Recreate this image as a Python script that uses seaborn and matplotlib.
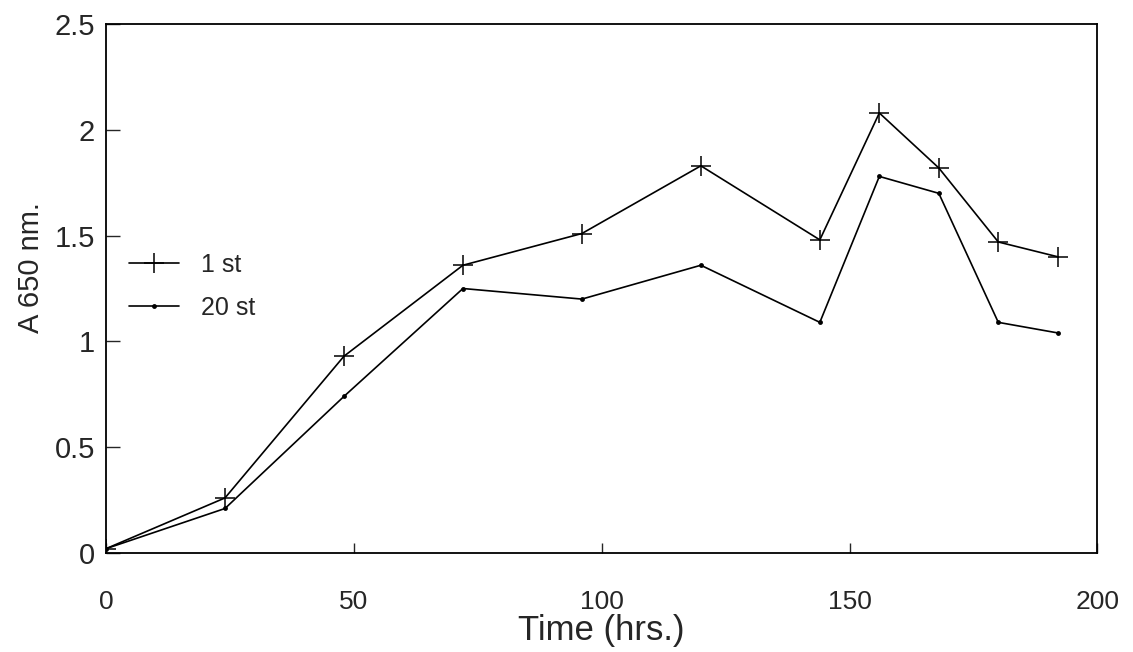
import matplotlib
matplotlib.use("Agg")
import matplotlib.pyplot as plt
import seaborn as sns

time_hrs = [0, 24, 48, 72, 96, 120, 144, 156, 168, 180, 192]
series_1st = [0.02, 0.26, 0.93, 1.36, 1.51, 1.83, 1.48, 2.08, 1.82, 1.47, 1.40]
series_20st = [0.02, 0.21, 0.74, 1.25, 1.20, 1.36, 1.09, 1.78, 1.70, 1.09, 1.04]
series_names = ["1 st", "20 st"]
x_ticks = [0, 50, 100, 150, 200]
y_ticks = [0, 0.5, 1, 1.5, 2, 2.5]
y_tick_labels = ["0", "0.5", "1", "1.5", "2", "2.5"]

sns.set_theme(style="ticks")
plt.rcParams['font.family'] = ['Liberation Sans', 'DejaVu Sans']

fig = plt.figure(figsize=(11.33, 6.52), dpi=100)
ax = fig.add_axes([0.0936, 0.152, 0.875, 0.811])

sns.lineplot(x=time_hrs, y=series_1st, color="black", marker="+",
             markersize=14, markeredgewidth=1.1, markeredgecolor="black",
             linewidth=1.2, label=series_names[0], ax=ax)
sns.lineplot(x=time_hrs, y=series_20st, color="black", marker="o",
             markersize=3.5, markeredgewidth=0, markerfacecolor="black",
             linewidth=1.2, label=series_names[1], ax=ax)

ax.set_xlim(0, 200)
ax.set_ylim(0, 2.5)
ax.set_xticks(x_ticks)
ax.set_xticklabels([str(t) for t in x_ticks])
ax.set_yticks(y_ticks)
ax.set_yticklabels(y_tick_labels)
ax.tick_params(axis="y", direction="in", length=10, width=1, labelsize=21, pad=8)
ax.tick_params(axis="x", direction="in", length=7, width=1, labelsize=19, pad=27)
for s in ax.spines.values():
    s.set_linewidth(1.3)
    s.set_color("black")

ax.set_xlabel("Time (hrs.)", fontsize=25, labelpad=0)
ax.set_ylabel("A 650 nm.", fontsize=21)
ax.yaxis.set_label_coords(-0.062, 0.54)

ax.legend(loc="upper left", bbox_to_anchor=(0.0, 0.61), frameon=False,
          fontsize=18, handlelength=2.0, labelspacing=0.75, handletextpad=0.9)

fig.savefig("out.png", dpi=100, facecolor="white")
